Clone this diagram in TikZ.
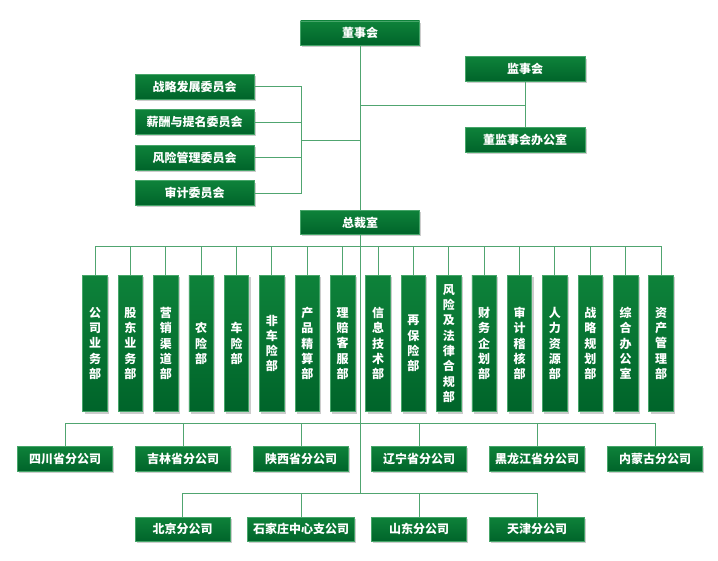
\documentclass[tikz,border=0pt]{standalone}
\usepackage{fontspec}
\newfontfamily\cjk{Noto Sans CJK SC}
\usetikzlibrary{shadows}
\definecolor{boxtop}{RGB}{14,130,58}
\definecolor{boxbot}{RGB}{0,100,42}
\definecolor{boxedge}{RGB}{70,165,105}
\definecolor{linkc}{RGB}{80,165,112}
\tikzset{
  box/.style={draw=boxedge, line width=0.6pt, top color=boxtop, bottom color=boxbot,
    text=white, font=\cjk\bfseries\fontsize{12}{15.3}\selectfont, inner sep=0pt,
    minimum height=24.5pt,
    drop shadow={shadow xshift=1.8pt,shadow yshift=-1.8pt,fill=black!20,opacity=1}},
  hbox/.style={box, minimum width=#1},
  vbox/.style={box, minimum width=24.5pt, minimum height=136.4pt, align=center},
  link/.style={draw=linkc, line width=1pt},
}
\begin{document}
\begin{tikzpicture}[x=1pt,y=-1pt]
\fill[white] (0,0) rectangle (718,560);
\path[use as bounding box] (0,0) rectangle (718,560);

% top level
\node[hbox=119pt] (dsh) at (360,33.2) {董事会};
\node[hbox=119pt] (zcs) at (360,222.4) {总裁室};
\node[hbox=120pt] (jsh) at (525,69) {监事会};
\node[hbox=120pt] (bgs) at (525,139.7) {董监事会办公室};

% committees
\node[hbox=119pt] (cm1) at (194.7,86.7) {战略发展委员会};
\node[hbox=119pt] (cm2) at (194.7,122) {薪酬与提名委员会};
\node[hbox=119pt] (cm3) at (194.7,157.7) {风险管理委员会};
\node[hbox=119pt] (cm4) at (194.7,193) {审计委员会};

% departments
\foreach \t [count=\i from 0] in {
  {公\\司\\业\\务\\部},{股\\东\\业\\务\\部},{营\\销\\渠\\道\\部},{农\\险\\部},
  {车\\险\\部},{非\\车\\险\\部},{产\\品\\精\\算\\部},{理\\赔\\客\\服\\部},
  {信\\息\\技\\术\\部},{再\\保\\险\\部},{风\\险\\及\\法\\律\\合\\规\\部},
  {财\\务\\企\\划\\部},{审\\计\\稽\\核\\部},{人\\力\\资\\源\\部},
  {战\\略\\规\\划\\部},{综\\合\\办\\公\\室},{资\\产\\管\\理\\部}}
  \node[vbox] (d\i) at ({95+35.375*\i},343.5) {\t};

% provincial branches
\foreach \t [count=\i from 0] in {四川省分公司,吉林省分公司,陕西省分公司,辽宁省分公司,黑龙江省分公司,内蒙古分公司}
  \node[hbox=95pt] (r\i) at ({65+118*\i},458.7) {\t};

% second row
\node[hbox=95pt] (s0) at (182.7,529.3) {北京分公司};
\node[hbox=106.7pt] (s1) at (301,529.3) {石家庄中心支公司};
\node[hbox=95pt] (s2) at (419,529.3) {山东分公司};
\node[hbox=95pt] (s3) at (537,529.3) {天津分公司};

% junction coordinates
\coordinate (t1) at (360,140);
\coordinate (c1) at (301,140);
\coordinate (t2) at (360,105);
\coordinate (b1) at (360,246);
\coordinate (b2) at (360,423.5);
\coordinate (b3) at (360,493.7);

% connectors
\draw[link] (dsh.south) -- (zcs.north);
\draw[link] (zcs.south) -- (b3);
\foreach \i in {1,...,4} \draw[link] (cm\i.east) -| (c1);
\draw[link] (c1) -- (t1);
\draw[link] (jsh.south) -- (bgs.north);
\draw[link] (t2) -- (t2 -| jsh.south);
\foreach \i in {0,...,16} \draw[link] (d\i.north) |- (b1);
\foreach \i in {0,...,5} \draw[link] (r\i.north) |- (b2);
\foreach \i in {0,...,3} \draw[link] (s\i.north) |- (b3);
\end{tikzpicture}
\end{document}
